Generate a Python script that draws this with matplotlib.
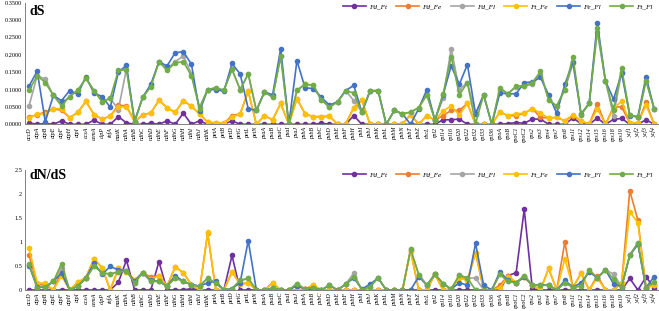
import matplotlib
matplotlib.use('Agg')
import matplotlib.pyplot as plt

plt.rcParams['font.family'] = ['Liberation Serif', 'DejaVu Serif']

genes = ['accD', 'atpA', 'atpB', 'atpE', 'atpF', 'atpH', 'atpI', 'ccsA', 'cemA', 'clpP',
         'infA', 'matK', 'ndhA', 'ndhB', 'ndhC', 'ndhD', 'ndhE', 'ndhF', 'ndhG', 'ndhH',
         'ndhI', 'ndhJ', 'ndhK', 'petA', 'petB', 'petD', 'petG', 'petL', 'petN', 'psaA',
         'psaB', 'psaC', 'psaI', 'psaJ', 'psbA', 'psbB', 'psbC', 'psbD', 'psbE', 'psbF',
         'psbH', 'psbI', 'psbJ', 'psbK', 'psbL', 'psbM', 'psbN', 'psbT', 'psbZ', 'rbcL',
         'rpl2', 'rpl14', 'rpl16', 'rpl20', 'rpl22', 'rpl32', 'rpl33', 'rpl36', 'rpoA', 'rpoB',
         'rpoC1', 'rpoC2', 'rps2', 'rps3', 'rps4', 'rps7', 'rps8', 'rps11', 'rps12', 'rps14',
         'rps15', 'rps16', 'rps18', 'rps19', 'ycf1', 'ycf2', 'ycf3', 'ycf4']

names = ['Fd_Ft', 'Fd_Fe', 'Fd_Fl', 'Ft_Fe', 'Fe_Fl', 'Ft_Fl']
colors = ['#7030A0', '#ED7D31', '#A5A5A5', '#FFC000', '#4472C4', '#70AD47']

# dS
ds_fd_ft = [.004, 0, .002, 0, .010, 0, 0, 0, .012, 0, 0, .022, .004, 0, 0, .003, 0, .010, 0, .032,
            0, .010, 0, 0, 0, .010, 0, 0, 0, 0, 0, 0, 0, 0, 0, 0, .003, 0, 0, 0,
            .025, 0, 0, 0, 0, 0, 0, 0, 0, 0, 0, .013, .013, .015, 0, 0, 0, 0, 0, .002,
            .005, .003, .015, .015, 0, 0, 0, .018, .002, 0, .018, 0, .014, .017, 0, 0, .013, 0]
ds_fd_fe = [.020, .028, .035, .045, .040, .019, .034, .066, .028, .015, .024, .055, .053, .008, .027, .033, .069, .048, .034, .068,
            .052, .030, .006, .004, .003, .025, .030, .095, 0, .025, .013, .060, 0, .074, .030, .022, .022, .023, .001, .001,
            .048, .070, 0, 0, 0, 0, 0, .028, 0, .025, .012, .025, .040, .040, .060, 0, 0, 0, .035, .025,
            .025, .032, .045, .020, .018, .020, .010, .025, .010, 0, .058, 0, .050, .050, .004, .004, .063, 0]
ds_fd_fl = [.053, .140, .130, .083, .060, .080, .098, .132, .097, .065, .075, .042, .160, .008, .078, .110, .180, .160, .180, .197,
            .145, .050, .100, .105, .098, .158, .100, .145, .040, .093, .078, .196, 0, .098, .115, .113, .070, .050, .064, .097,
            .068, .035, .097, .097, 0, .040, .030, .035, .048, .085, .012, .075, .218, .100, .120, .030, .085, 0, .100, .088,
            .108, .110, .115, .145, .070, .053, .100, .175, .028, .060, .265, .125, .025, .150, .027, .020, .125, .045]
ds_ft_fe = [.018, .030, .030, .045, .045, .019, .034, .066, .028, .015, .024, .050, .050, .008, .027, .033, .069, .048, .034, .068,
            .052, .030, .006, .004, .003, .020, .030, .095, 0, .025, .013, .060, 0, .074, .030, .022, .022, .023, .001, .001,
            .048, .070, 0, 0, 0, 0, 0, .028, 0, .025, .012, .038, .053, .027, .060, 0, 0, 0, .035, .025,
            .030, .032, .045, .032, .018, .020, .010, .028, .010, 0, .045, 0, .045, .067, .004, .004, .055, 0]
ds_fe_fl = [.110, .153, .008, .083, .068, .097, .087, .137, .090, .080, .049, .150, .170, .008, .078, .115, .180, .168, .206, .209,
            .173, .037, .100, .100, .095, .175, .145, .045, .040, .093, .085, .217, 0, .183, .105, .103, .078, .055, .065, .097,
            .112, .035, .095, .097, 0, .040, .030, 0, .045, .100, .012, .085, .168, .115, .172, .030, .085, 0, .090, .088,
            .088, .120, .122, .135, .085, .032, .115, .180, .030, .060, .293, .125, .072, .148, .025, .022, .137, .045]
ds_ft_fl = [.098, .140, .120, .083, .053, .080, .098, .132, .097, .065, .075, .155, .157, .008, .078, .108, .180, .155, .177, .180,
            .140, .045, .100, .105, .098, .158, .100, .145, .040, .093, .078, .196, 0, .098, .115, .113, .070, .050, .064, .097,
            .090, .035, .097, .097, 0, .040, .030, .035, .048, .085, .012, .087, .195, .085, .120, .002, .085, 0, .105, .088,
            .110, .110, .120, .152, .070, .053, .100, .195, .028, .060, .277, .125, .040, .162, .027, .020, .125, .045]

# dN/dS
w_fd_ft = [0, 0, 0, 0, 0, 0, 0, 0, 0, 0, 0, .16, .62, 0, 0, 0, .59, 0, 0, 0,
           .03, 0, 0, 0, 0, .72, 0, 0, 0, 0, 0, 0, 0, 0, 0, 0, 0, 0, 0, 0,
           0, 0, 0, 0, 0, 0, 0, 0, 0, 0, 0, 0, 0, 0, 0, 0, 0, 0, 0, .30,
           .36, 1.68, .02, 0, 0, 0, 0, 0, 0, 0, 0, 0, 0, 0, .24, 0, .27, .05]
w_fd_fe = [.72, .12, .10, 0, .40, 0, .16, .26, .65, .46, 0, .45, .38, .21, .36, .27, .30, .08, .48, .36,
           .11, 0, 1.18, 0, 0, .38, .12, .15, 0, 0, .15, 0, 0, 0, .02, .10, 0, 0, 0, 0,
           0, 0, 0, 0, 0, 0, 0, .82, 0, 0, .33, 0, .02, .28, .20, .78, 0, 0, .10, .30,
           .15, .27, .10, 0, .45, 0, 1.00, .05, .35, 0, .30, 0, 0, .15, 2.07, 1.45, .05, .10]
w_fd_fl = [.52, .05, .07, .18, .45, 0, .08, .24, .50, .36, .33, .38, .40, .15, .36, .18, .18, .08, .25, .18,
           .11, .08, .25, .14, 0, .03, .20, .24, 0, 0, .04, 0, 0, .13, .02, .05, 0, .10, 0, .12,
           .35, 0, .07, .25, 0, 0, 0, .85, .32, .10, .33, .13, .02, .31, .25, .25, 0, 0, .33, .18,
           .15, .30, .10, .10, .10, 0, .15, .06, .08, .42, .25, .42, .33, .07, .73, .98, .05, .10]
w_ft_fe = [.87, .15, .14, 0, .30, 0, .16, .26, .65, .46, 0, .45, .38, .21, .36, .22, .30, .08, .48, .36,
           .11, 0, 1.20, 0, 0, .38, .12, .15, 0, 0, .15, 0, 0, 0, .02, .10, 0, 0, 0, 0,
           0, 0, 0, 0, 0, 0, 0, .82, 0, 0, .33, 0, .02, .25, .20, .78, 0, 0, .05, .28,
           .15, .27, .10, 0, .45, 0, .65, .05, .35, 0, .25, 0, 0, .15, 1.63, 1.40, .05, .10]
w_fe_fl = [.51, .07, .05, .18, .35, 0, .08, .25, .56, .33, .49, .42, .40, .18, .36, .20, .18, .08, .30, .18,
           .11, .08, .15, .18, 0, .03, .15, 1.03, 0, 0, .04, 0, 0, .09, .02, .05, 0, .10, 0, .12,
           .25, .02, .12, .25, 0, 0, 0, 0, .28, .10, .33, .13, .02, .15, .10, .97, .10, 0, .38, .20,
           .15, .27, .10, .10, .10, 0, .20, .06, .15, .38, .25, .42, .13, .07, .72, .95, .05, .28]
w_ft_fl = [.54, .05, .07, .18, .55, 0, .08, .24, .50, .36, .33, .38, .40, .15, .36, .18, .18, .08, .25, .18,
           .11, .08, .25, .14, 0, .03, .20, .24, 0, 0, .04, 0, 0, .13, .02, .05, 0, .10, 0, .12,
           .28, 0, .07, .25, 0, 0, 0, .85, .32, .10, .33, .13, .02, .31, .25, 0, 0, 0, .33, .18,
           .15, .30, .10, .10, .10, 0, .15, .06, .08, .42, .25, .42, .23, .07, .73, .98, .05, .17]

ds = [ds_fd_ft, ds_fd_fe, ds_fd_fl, ds_ft_fe, ds_fe_fl, ds_ft_fl]
dnds = [w_fd_ft, w_fd_fe, w_fd_fl, w_ft_fe, w_fe_fl, w_ft_fl]

fig = plt.figure(figsize=(6.59, 3.11), dpi=100)
ax1 = fig.add_axes([25 / 659, 1 - 124.3 / 311, 634 / 659, 121.6 / 311])
ax2 = fig.add_axes([25 / 659, 1 - 290 / 311, 634 / 659, 120 / 311])

x = list(range(len(genes)))


def panel(ax, data, ymax, yticks, ylabels, title, ty, ly):
    for vals, c, n in zip(data, colors, names):
        ax.plot(x, vals, color=c, lw=1.2, marker='o', ms=3, label=n)
    ax.set_xlim(-0.5, 77.6)
    ax.set_ylim(0, ymax)
    ax.set_yticks(yticks)
    ax.set_yticklabels(ylabels, fontsize=4.5)
    ax.set_xticks(x)
    ax.set_xticklabels(genes, rotation=90, fontsize=4.3, style='italic')
    ax.tick_params(axis='x', length=0, pad=2)
    ax.tick_params(axis='y', length=0, pad=2)
    for s in ['top', 'right']:
        ax.spines[s].set_visible(False)
    for s in ['left', 'bottom']:
        ax.spines[s].set_color('#808080')
        ax.spines[s].set_linewidth(0.7)
    ax.text(0.007, ty, title, transform=ax.transAxes, fontsize=10, fontweight='bold', va='top')
    ax.legend(loc='upper right', bbox_to_anchor=(1.0, ly), ncol=6, frameon=False,
              handlelength=3.2, columnspacing=1.3, handletextpad=0.4,
              prop={'style': 'italic', 'size': 5.2})


panel(ax1, ds, 0.35, [0, .05, .1, .15, .2, .25, .3, .35],
      ['0.0000', '0.0500', '0.1000', '0.1500', '0.2000', '0.2500', '0.3000', '0.3500'], 'dS', 0.98, 1.05)
panel(ax2, dnds, 2.5, [0, .5, 1, 1.5, 2, 2.5],
      ['0', '0.5', '1', '1.5', '2', '2.5'], 'dN/dS', 1.01, 1.04)

fig.savefig('out.png', dpi=100)
